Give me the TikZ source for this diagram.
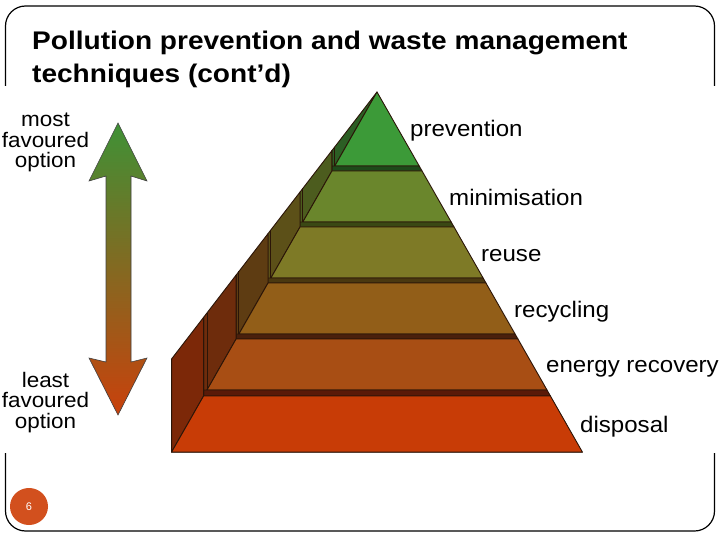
\documentclass[tikz,border=0pt]{standalone}
\usepackage{fontspec}
\setmainfont{Liberation Sans}
\usepackage{graphicx}
\usetikzlibrary{shapes.geometric}
\newcommand{\sx}[1]{\scalebox{1.07}[1]{#1}}
\definecolor{outl}{HTML}{2B1508}
\definecolor{fP}{HTML}{3C9A38}\definecolor{pP}{HTML}{2C5E24}\definecolor{bP}{HTML}{1E4A1A}
\definecolor{fM}{HTML}{6A862C}\definecolor{pM}{HTML}{4C5C1E}\definecolor{bM}{HTML}{3A4814}
\definecolor{fU}{HTML}{7E7A26}\definecolor{pU}{HTML}{5C5018}\definecolor{bU}{HTML}{4A3810}
\definecolor{fR}{HTML}{925E18}\definecolor{pR}{HTML}{5E3C12}\definecolor{bR}{HTML}{4A200C}
\definecolor{fE}{HTML}{A84E14}\definecolor{pE}{HTML}{6E2C0C}\definecolor{bE}{HTML}{5A1A08}
\definecolor{fD}{HTML}{C83C06}\definecolor{pD}{HTML}{7C2808}\definecolor{bD}{HTML}{5A1808}
\definecolor{arrG}{HTML}{3F9136}
\definecolor{arrM}{HTML}{7C6A20}
\definecolor{arrR}{HTML}{C9410C}
\definecolor{pgcol}{HTML}{D2501E}
\begin{document}
\begin{tikzpicture}[x=1pt,y=-1pt,
  lab/.style={anchor=base west, inner sep=0, font=\fontsize{22.5}{24}\selectfont},
  side/.style={align=center, inner sep=0, font=\fontsize{21}{20.5}\selectfont},
  ttl/.style={anchor=base west, inner sep=0, font=\fontsize{25.5}{30}\selectfont\bfseries},
  pyr/.style={draw=outl, line width=0.9pt, line join=round}]
\useasboundingbox (0,0) rectangle (720,540);
% slide frame
\draw[line width=1.2pt, rounded corners=20pt] (5.5,6) rectangle (714.5,531);
\fill[white] (0,86) rectangle (720,453);
% pyramid layers
\foreach \yt/\ybs/\yb/\fc/\pc/\bc in {
  92/166/171/fP/pP/bP,
  171/222/227/fM/pM/bM,
  227/278/283/fU/pU/bU,
  283/334/339/fR/pR/bR,
  339/390/396/fE/pE/bE,
  396/452/452/fD/pD/bD}{
  \pgfmathsetmacro\xlb{377-(\yb-92)*0.5705}
  \pgfmathsetmacro\xlt{377-(\yt-92)*0.5705}
  \pgfmathsetmacro\xls{377-(\ybs-92)*0.5705}
  \pgfmathsetmacro\xrs{377+(\ybs-92)*0.5705}
  \pgfmathsetmacro\xrb{377+(\yb-92)*0.5705}
  \pgfmathsetmacro\xrt{377+(\yt-92)*0.5705}
  \pgfmathsetmacro\tpb{361-(\xlb-170)*1.2995}
  \pgfmathsetmacro\tpt{361-(\xlt-170)*1.2995}
  \pgfmathsetmacro\tps{361-(\xls-170)*1.2995}
  \filldraw[pyr, fill=\pc] (\xlb,\yb) -- (\xlb,\tpb) -- (\xlt,\tpt) -- (\xlt,\yt) -- cycle;
  \filldraw[pyr, fill=\fc] (\xlt,\yt) -- (\xrt,\yt) -- (\xrs,\ybs) -- (\xls,\ybs) -- cycle;
  \filldraw[pyr, fill=\bc] (\xlb,\ybs) -- (\xrs,\ybs) -- (\xrb,\yb) -- (\xlb,\yb) -- cycle;
  \draw[pyr] (\xls,\ybs) -- (\xls,\tps);
}
% labels
\node (prev) [lab] at (410,137) {\sx{prevention}};
\node (mini) [lab] at (449,206) {\sx{minimisation}};
\node (reus) [lab] at (481,261) {\sx{reuse}};
\node (recy) [lab] at (514,317) {\sx{recycling}};
\node (ener) [lab] at (546,372) {\sx{energy recovery}};
\node (disp) [lab] at (580,432) {\sx{disposal}};
% double arrow
\shadedraw[top color=arrG, middle color=arrM, bottom color=arrR, draw=black!75, line width=0.6pt, line join=miter]
  (118,123) -- (147,181) -- (131,176) -- (131,362) -- (147,358) -- (118,415)
  -- (89,358) -- (106,362) -- (106,176) -- (89,181) -- cycle;
\node (most) [side] at (45.5,142.7) {\sx{most}\\\sx{favoured}\\\sx{option}};
\node (least) [side] at (45.5,402.2) {\sx{least}\\\sx{favoured}\\\sx{option}};
% title
\node (t1) [ttl] at (32,50) {\scalebox{1.1}[1]{Pollution prevention and waste management}};
\node (t2) [ttl] at (32,83) {\scalebox{1.1}[1]{techniques (cont’d)}};
% page number
\node (pg) [ellipse, fill=pgcol, minimum width=38pt, minimum height=37pt, inner sep=0, text=white, font=\fontsize{11}{12}\selectfont] at (29,506.5) {6};
\end{tikzpicture}
\end{document}
